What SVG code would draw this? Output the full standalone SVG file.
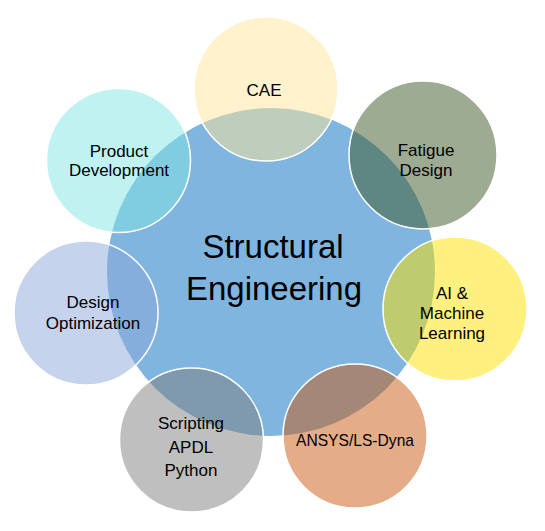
<svg xmlns="http://www.w3.org/2000/svg" width="545" height="531" viewBox="0 0 545 531">
<style>
.c{stroke:#fff;stroke-width:1.5;fill-opacity:0.5}
.t{font-family:"Liberation Sans",Arial,sans-serif;font-size:17px;fill:#000;text-anchor:middle}
.h{font-family:"Liberation Sans",Arial,sans-serif;font-size:33px;fill:#000;text-anchor:middle}
</style>
<rect width="545" height="531" fill="#fff"/>
<g id="center">
<circle cx="271" cy="272" r="164" fill="#7FB5DE"/>
<text class="h" x="273" y="258">Structural</text>
<text class="h" x="274" y="300">Engineering</text>
</g>
<g id="cae">
<circle class="c" cx="266" cy="89" r="72" fill="#FFE599"/>
<text class="t" x="264" y="96">CAE</text>
</g>
<g id="fatigue">
<circle class="c" cx="423" cy="155" r="74" fill="#3D5727"/>
<text class="t" x="426" y="156">Fatigue</text>
<text class="t" x="426" y="176">Design</text>
</g>
<g id="ai">
<circle class="c" cx="455" cy="309" r="72" fill="#FFE100"/>
<text class="t" x="452" y="299">AI &amp;</text>
<text class="t" x="452" y="319">Machine</text>
<text class="t" x="452" y="339">Learning</text>
</g>
<g id="ansys">
<circle class="c" cx="355" cy="436" r="72" fill="#CB5911"/>
<text class="t" x="355" y="446" textLength="118" lengthAdjust="spacingAndGlyphs">ANSYS/LS-Dyna</text>
</g>
<g id="scripting">
<circle class="c" cx="191.5" cy="440" r="72" fill="#7F7F7F"/>
<text class="t" x="191" y="429">Scripting</text>
<text class="t" x="191" y="453">APDL</text>
<text class="t" x="191" y="476">Python</text>
</g>
<g id="design-opt">
<circle class="c" cx="86" cy="313" r="72" fill="#8BA7DB"/>
<text class="t" x="93" y="308">Design</text>
<text class="t" x="93" y="329">Optimization</text>
</g>
<g id="product">
<circle class="c" cx="118.5" cy="160.5" r="72" fill="#81E5E3"/>
<text class="t" x="119" y="157">Product</text>
<text class="t" x="119" y="176">Development</text>
</g>
<g id="connectors"/>
</svg>
